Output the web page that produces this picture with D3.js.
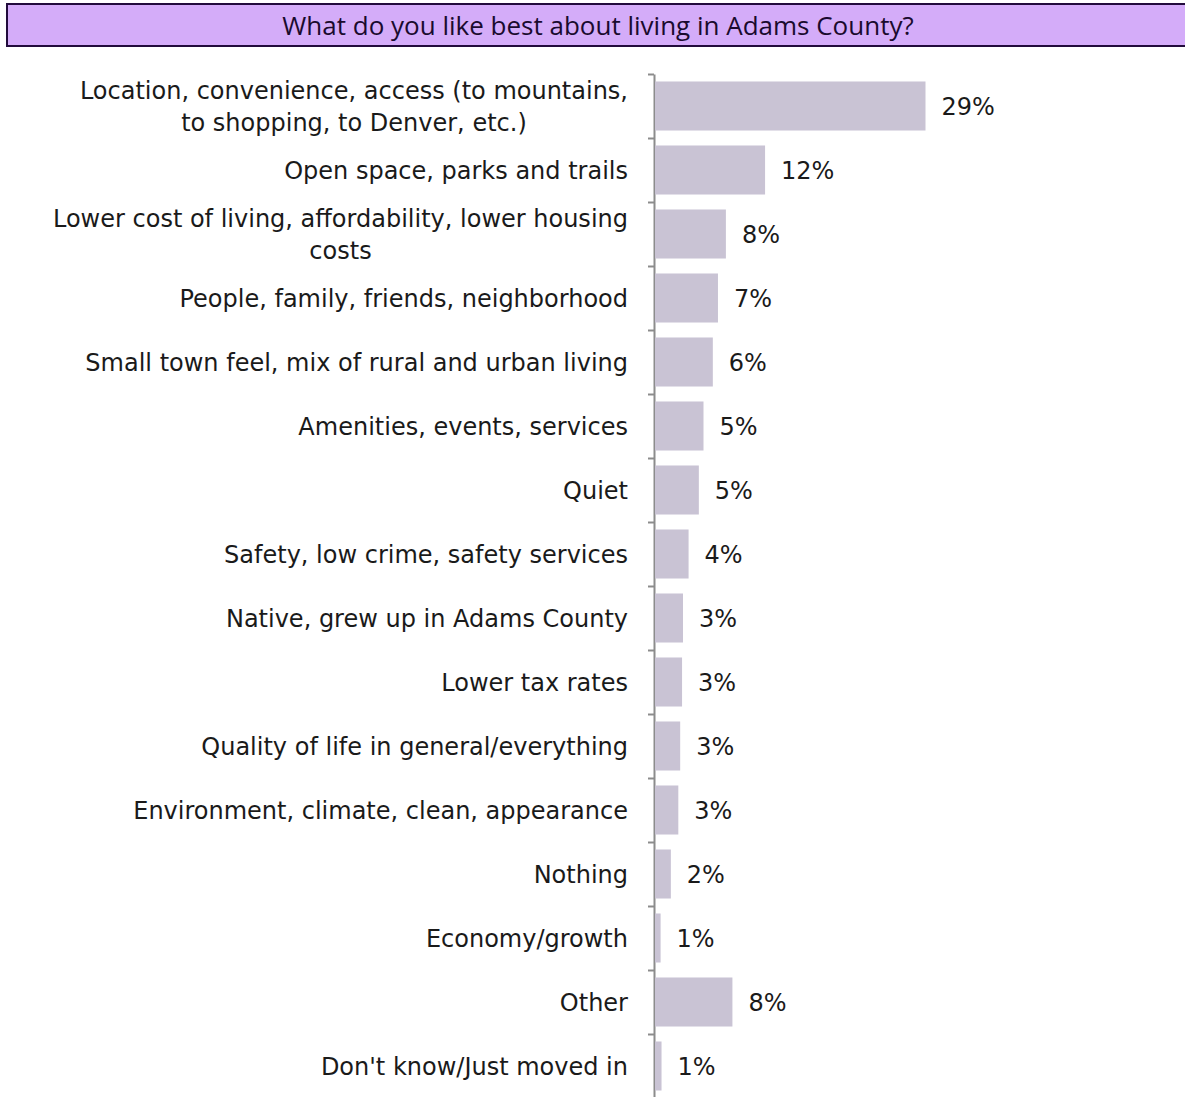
<!DOCTYPE html>
<html>
<head>
<meta charset="utf-8">
<script src="https://cdn.jsdelivr.net/npm/d3@7"></script>
<style>
  html, body { margin: 0; padding: 0; background: #ffffff; overflow: hidden; }
  svg { display: block; }
</style>
</head>
<body>
<script>
const title = "What do you like best about living in Adams County?";
const categories = [
  "Location, convenience, access (to mountains,\nto shopping, to Denver, etc.)",
  "Open space, parks and trails",
  "Lower cost of living, affordability, lower housing\ncosts",
  "People, family, friends, neighborhood",
  "Small town feel, mix of rural and urban living",
  "Amenities, events, services",
  "Quiet",
  "Safety, low crime, safety services",
  "Native, grew up in Adams County",
  "Lower tax rates",
  "Quality of life in general/everything",
  "Environment, climate, clean, appearance",
  "Nothing",
  "Economy/growth",
  "Other",
  "Don't know/Just moved in"
];
const values = [29.0, 11.8, 7.6, 6.75, 6.2, 5.2, 4.7, 3.6, 3.0, 2.9, 2.7, 2.5, 1.7, 0.6, 8.3, 0.7];

const W = 1185, H = 1097;
const svg = d3.select("body").append("svg").attr("width", W).attr("height", H);

// Header box
svg.append("rect")
  .attr("x", 7).attr("y", 4).attr("width", W + 10).attr("height", 42)
  .attr("fill", "#d4acf9").attr("stroke", "#220b3c").attr("stroke-width", 2);
svg.append("text")
  .attr("x", 598).attr("y", 25)
  .attr("text-anchor", "middle").attr("dominant-baseline", "central")
  .attr("font-family", "'Open Sans', sans-serif")
  .attr("font-size", 26).attr("fill", "#1a0a2e")
  .text(title);

const x0 = 655;
const x = d3.scaleLinear().domain([0, 29]).range([x0, 925.5]);
const y = d3.scaleBand().domain(categories).range([74, 1098])
  .paddingInner(0.234).paddingOuter(0.117);
const idx = d3.scaleLinear().domain([0, categories.length]).range([74, 1098]);

// Axis with ticks at band boundaries
const axis = d3.axisLeft(idx).tickValues(d3.range(categories.length + 1))
  .tickFormat("").tickSizeInner(6).tickSizeOuter(0);
const ag = svg.append("g").attr("transform", `translate(${654},0)`).call(axis);
ag.select(".domain").attr("stroke", "#8c8c8c").attr("stroke-width", 2);
ag.selectAll(".tick line").attr("stroke", "#8c8c8c").attr("stroke-width", 2);

// Bars
svg.append("g").selectAll("rect").data(categories).join("rect")
  .attr("x", x0)
  .attr("y", d => y(d))
  .attr("width", (d, i) => x(values[i]) - x0)
  .attr("height", y.bandwidth())
  .attr("fill", "#c9c3d4");

const labelFont = "'DejaVu Sans', sans-serif";
const fs = 24;

// Value labels
svg.append("g").selectAll("text").data(categories).join("text")
  .attr("x", (d, i) => x(values[i]) + 16)
  .attr("y", d => y(d) + y.bandwidth() / 2 + 1)
  .attr("dominant-baseline", "central")
  .attr("font-family", labelFont).attr("font-size", fs).attr("fill", "#1a1a1a")
  .text((d, i) => Math.round(values[i]) + "%");

// Category labels (multi-line blocks right-aligned, lines centred within block)
const lg = svg.append("g");
const right = 628;
categories.forEach(c => {
  const t = lg.append("text")
    .attr("font-family", labelFont).attr("font-size", fs).attr("fill", "#1a1a1a");
  const lines = c.split("\n");
  const cy = y(c) + y.bandwidth() / 2 + 1;
  const lh = 32;
  const spans = lines.map((ln, k) => t.append("tspan")
    .attr("y", cy + (k - (lines.length - 1) / 2) * lh)
    .attr("dominant-baseline", "central")
    .text(ln));
  if (lines.length === 1) {
    t.attr("text-anchor", "end");
    spans[0].attr("x", right);
  } else {
    const maxW = d3.max(spans, s => s.node().getComputedTextLength());
    t.attr("text-anchor", "middle");
    spans.forEach(s => s.attr("x", right - maxW / 2));
  }
});
</script>
</body>
</html>
